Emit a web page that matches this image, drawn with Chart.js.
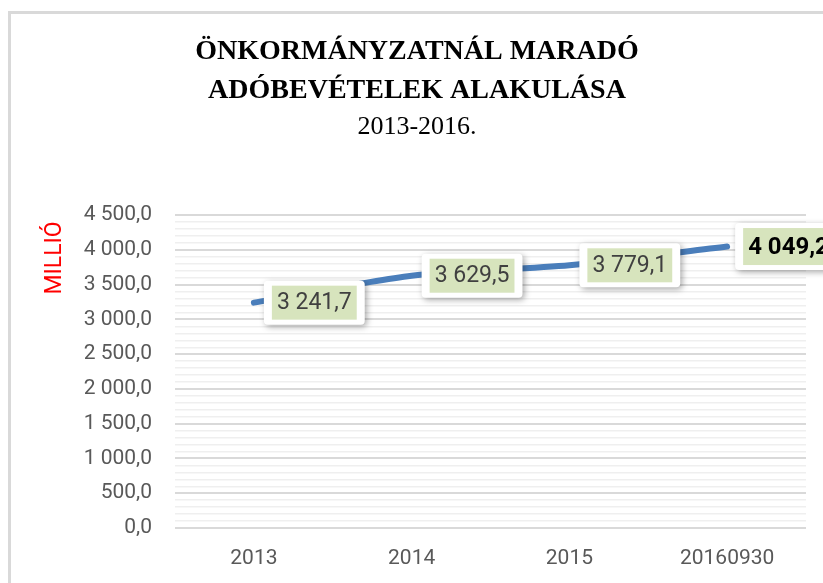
<!DOCTYPE html>
<html lang="hu">
<head>
<meta charset="utf-8">
<title>Önkormányzatnál maradó adóbevételek alakulása</title>
<script src="https://cdn.jsdelivr.net/npm/chart.js@4"></script>
<style>
  html, body { margin: 0; padding: 0; background: #fff; overflow: hidden; }
  #frame { position: absolute; left: 8px; top: 11px; width: 900px; height: 700px;
           border-top: 3px solid #d9d9d9; border-left: 3px solid #d9d9d9; }
  #wrap { position: absolute; left: 0; top: 0; width: 823px; height: 583px; }
</style>
</head>
<body>
<div id="frame"></div>
<div id="wrap"><canvas id="adoChart"></canvas></div>
<script>
// chart data
const years = ['2013', '2014', '2015', '20160930'];
const revenues = [3241.7, 3629.5, 3779.1, 4049.2];
const titleLines = ['ÖNKORMÁNYZATNÁL MARADÓ', 'ADÓBEVÉTELEK ALAKULÁSA'];
const subtitleText = '2013-2016.';
const unitLabel = 'MILLIÓ';
const yMin = 0;
const yMax = 4500;
const yMinorStep = 100;
const yMajorStep = 500;

// "4 500,0" style numbers
function huNumber(v) {
    const parts = v.toFixed(1).split('.');
    return parts[0].replace(/\B(?=(\d{3})+(?!\d))/g, ' ') + ',' + parts[1];
}

// boxed value labels next to each point (last one in bold)
const valueLabels = {
    id: 'valueLabels',
    afterDatasetsDraw(chart) {
        const ctx = chart.ctx;
        const meta = chart.getDatasetMeta(0);
        meta.data.forEach((pt, i) => {
            const last = i === revenues.length - 1;
            const text = huNumber(revenues[i]);
            ctx.save();
            ctx.font = last ? 'bold 24px Roboto' : '23px Roboto';
            const tw = ctx.measureText(text).width;
            const boxH = last ? 47 : 44;
            const boxW = tw + 26;
            const bx = pt.x + (last ? 8 : 10);
            const by = pt.y - boxH / 2;

            ctx.shadowColor = 'rgba(0,0,0,0.35)';
            ctx.shadowBlur = 6;
            ctx.shadowOffsetX = 2;
            ctx.shadowOffsetY = 2;
            ctx.fillStyle = '#fff';
            ctx.beginPath();
            ctx.roundRect(bx, by, boxW, boxH, 4);
            ctx.fill();

            ctx.shadowColor = 'transparent';
            ctx.fillStyle = '#d7e4bd';
            ctx.fillRect(bx + 8, by + 5, tw + 10, boxH - 10);

            ctx.fillStyle = last ? '#000' : '#404040';
            ctx.textAlign = 'left';
            ctx.textBaseline = 'middle';
            ctx.fillText(text, bx + 13, by + boxH / 2 + 1);
            ctx.restore();
        });
    }
};

// red rotated unit label, sits high on the axis like in the original
const unitTitle = {
    id: 'unitTitle',
    afterDraw(chart) {
        const ctx = chart.ctx;
        ctx.save();
        ctx.translate(55, 258);
        ctx.rotate(-Math.PI / 2);
        ctx.font = '23px Roboto';
        ctx.fillStyle = '#ff0000';
        ctx.textAlign = 'center';
        ctx.textBaseline = 'middle';
        ctx.fillText(unitLabel, 0, 0);
        ctx.restore();
    }
};

const chart = new Chart(document.getElementById('adoChart'), {
    type: 'line',
    data: {
        labels: years,
        datasets: [{
            label: 'Adóbevétel',
            data: revenues,
            borderColor: '#4a7ebb',
            borderWidth: 6,
            borderCapStyle: 'round',
            borderJoinStyle: 'round',
            tension: 0.25,
            fill: false,
            pointRadius: 0,
            pointHoverRadius: 0
        }]
    },
    options: {
        responsive: true,
        maintainAspectRatio: false,
        animation: false,
        layout: { padding: { left: 28, right: 17, top: 0, bottom: 10 } },
        plugins: {
            legend: { display: false },
            tooltip: { enabled: false },
            title: {
                display: true,
                text: titleLines,
                color: '#000',
                font: { family: 'Liberation Serif', size: 28, weight: 'bold', lineHeight: 1.4 },
                padding: { top: 32, bottom: 0 }
            },
            subtitle: {
                display: true,
                text: subtitleText,
                color: '#000',
                font: { family: 'Liberation Serif', size: 26, weight: 'normal', lineHeight: 1.3 },
                padding: { top: 0, bottom: 71 }
            }
        },
        scales: {
            x: {
                offset: true,
                grid: { display: false },
                border: { display: false },
                ticks: { color: '#595959', font: { family: 'Roboto', size: 21 }, padding: 10 },
                afterFit: s => { s.height = 45; }
            },
            y: {
                min: yMin,
                max: yMax,
                border: { display: false },
                grid: {
                    drawTicks: false,
                    color: c => c.tick.value % yMajorStep === 0 ? '#d9d9d9' : '#efefef',
                    lineWidth: c => c.tick.value % yMajorStep === 0 ? 2 : 1.5
                },
                ticks: {
                    stepSize: yMinorStep,
                    autoSkip: false,
                    color: '#595959',
                    font: { family: 'Roboto', size: 21 },
                    padding: 23,
                    callback: v => v % yMajorStep === 0 ? huNumber(v) : ''
                },
                afterFit: s => { s.width = 147; }
            }
        }
    },
    plugins: [valueLabels, unitTitle]
});
</script>
</body>
</html>
